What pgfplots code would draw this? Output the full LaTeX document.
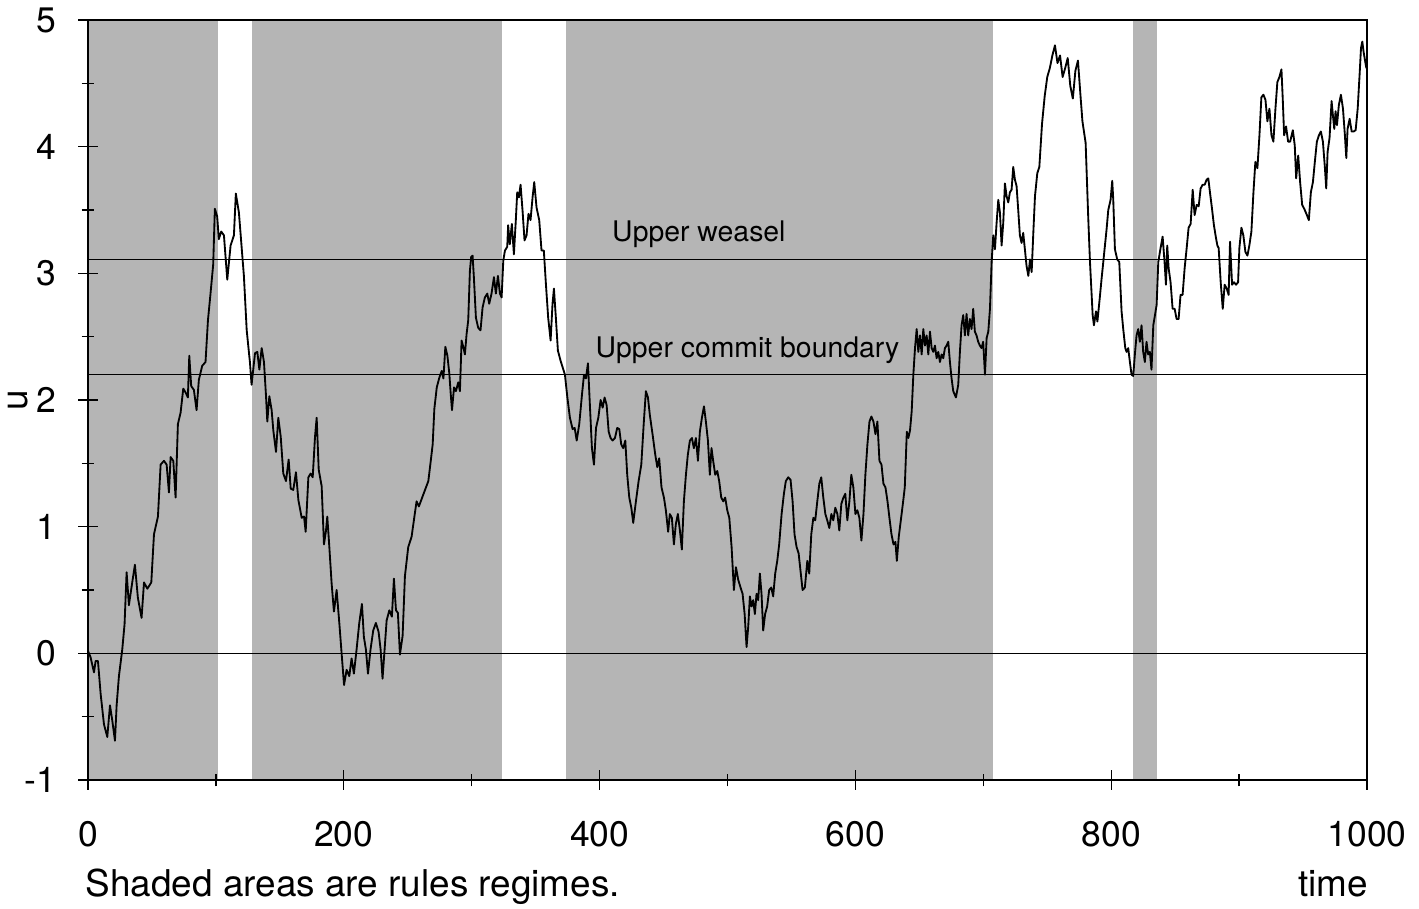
\documentclass[border=0pt]{standalone}
\usepackage{fontspec}
\setmainfont{TeX Gyre Heros}
\usepackage{pgfplots}
\pgfplotsset{compat=1.18}
\definecolor{shade}{gray}{0.71}
\begin{document}
\begin{tikzpicture}
\begin{axis}[
  scale only axis, width=450.67pt, height=267.8pt,
  xmin=0, xmax=1000, ymin=-1, ymax=5,
  xtick={0,200,...,1000}, minor xtick={100,300,...,900},
  ytick={-1,0,...,5}, minor ytick={-0.5,0.5,...,4.5},
  tick pos=left,
  scaled ticks=false,
  tick align=center, major tick length=7pt, minor tick length=4.5pt,
  every tick/.style={black, line width=0.5pt},
  axis line style={line width=0.6pt},
  tick label style={font=\fontsize{12.5}{14}\selectfont},
  /pgf/number format/assume math mode=true,
  /pgf/number format/1000 sep={},
  xticklabel style={yshift=-7.5pt},
  yticklabel style={xshift=-4.2pt},
  axis on top,
]
\coordinate (SW) at (rel axis cs:0,0);
\coordinate (SE) at (rel axis cs:1,0);
\coordinate (ML) at (rel axis cs:0,0.5);
\coordinate (NE) at (rel axis cs:1,1);
% rules regimes (shaded)
\addplot[draw=none, fill=shade] coordinates {(0,-1) (0,5) (102,5) (102,-1)} -- cycle;
\addplot[draw=none, fill=shade] coordinates {(128,-1) (128,5) (324,5) (324,-1)} -- cycle;
\addplot[draw=none, fill=shade] coordinates {(373.5,-1) (373.5,5) (707.8,5) (707.8,-1)} -- cycle;
\addplot[draw=none, fill=shade] coordinates {(817,-1) (817,5) (836,5) (836,-1)} -- cycle;
% reference lines
\addplot[black, line width=0.5pt] coordinates {(0,0) (1000,0)};
\addplot[black, line width=0.5pt] coordinates {(0,2.2) (1000,2.2)};
\addplot[black, line width=0.5pt] coordinates {(0,3.11) (1000,3.11)};
% series u
\addplot[black, line width=0.65pt, line join=round] coordinates {
(0,0.02) (2,-0.03) (4.7,-0.15) (6,-0.06) (7.8,-0.06) (9.9,-0.32) (12.5,-0.56) (15.1,-0.66) (17.2,-0.41) (19,-0.53) (21.1,-0.69) (22.4,-0.41) (24.2,-0.18) (26.8,0.03) (28.6,0.23) (30.2,0.64) (32,0.38) (34.6,0.56) (36.7,0.70) (39,0.44) (41.9,0.28) (43.8,0.56) (46.4,0.51) (49.5,0.56) (51.6,0.94) (54.7,1.08) (56.8,1.49) (59.4,1.52) (61.5,1.49) (63.3,1.27) (64.6,1.55) (66.7,1.52) (68.5,1.23) (70.3,1.81) (72.4,1.90) (74.5,2.09) (76.3,2.06) (78.1,2.02) (79.2,2.35) (80.7,2.11) (82.8,2.08) (84.9,1.92) (86.7,2.16) (89.3,2.27) (91.9,2.30) (93.8,2.63) (95.8,2.84) (97.9,3.07) (99.2,3.51) (101,3.45) (102.3,3.27) (104.2,3.33) (106.3,3.30) (108.9,2.95) (111.5,3.22) (114.1,3.30) (115.6,3.63) (118,3.48) (121.9,2.98)
(124.1,2.55) (126.7,2.29) (127.9,2.12) (130.6,2.37) (132.4,2.38) (134,2.24) (135.8,2.41) (137.6,2.30) (139.2,2.03) (140.2,1.83) (141.8,2.03) (143.6,1.92) (144.9,1.76) (147,1.59) (148.8,1.86) (150.7,1.71) (152.7,1.42) (154.8,1.36) (156.9,1.53) (158.5,1.30) (160.5,1.29) (162.6,1.43) (164.5,1.21) (167.1,1.07) (168.9,1.08) (170.2,0.96) (172.3,1.39) (174.1,1.42) (175.7,1.39) (177.5,1.71) (178.8,1.86) (180.4,1.45) (182.7,1.32) (184.5,0.86) (186.1,0.97) (187.1,1.08) (188.7,0.84) (190.5,0.55) (192.3,0.33) (194.4,0.50) (196.5,0.24) (198.3,0.0) (200.2,-0.25) (202.2,-0.13) (204.3,-0.18) (206.1,-0.04) (207.9,-0.16) (210,0.03) (212.1,0.24) (214.2,0.39) (215.7,0.13) (217.3,0.03) (218.9,-0.16) (220.9,0.03) (223,0.18) (225.1,0.24) (227.2,0.17) (228.8,0.03) (230.3,-0.20) (231.9,0.03) (233.5,0.26) (235.6,0.34) (237.6,0.29) (239.2,0.59) (240.8,0.34) (242.3,0.32) (243.9,-0.01) (246,0.14) (247.8,0.61) (250.4,0.84) (253,0.92) (254.8,1.05) (256.9,1.20) (258.7,1.16)
(266.1,1.36) (268,1.52) (269.5,1.65) (270.8,1.93) (272.7,2.10) (274.8,2.18) (276.6,2.23) (277.9,2.17) (279.4,2.42) (281,2.35) (282.5,2.21) (283.6,2.05) (284.6,1.92) (286.2,2.10) (287.7,2.07) (289.5,2.14) (290.8,2.07) (292.1,2.47) (293.4,2.42) (294.7,2.36) (296,2.52) (297.3,2.63) (298.6,3.02) (299.6,3.13) (300.7,3.14) (301.7,2.97) (303.3,2.65) (305.1,2.57) (306.9,2.55) (308.5,2.73) (310.3,2.81) (312.2,2.84) (313.7,2.76) (315.5,2.84) (317.4,2.97) (318.9,2.84) (320.5,2.98) (322.1,2.84) (323.4,2.81) (324.7,3.10) (326,3.18) (327.8,3.21) (328.5,3.38) (329.8,3.23) (331.4,3.39) (333,3.15) (334.5,3.42) (335.6,3.64) (336.9,3.60) (338.2,3.70) (339.8,3.49) (341.3,3.26) (342.9,3.30) (344.4,3.47) (346,3.42) (347.6,3.60) (348.9,3.72) (350.7,3.52) (352.8,3.42) (354.6,3.18) (356.4,3.18) (358,2.92) (359.8,2.65) (361.7,2.47) (363.2,2.76) (364.3,2.88) (365.8,2.65) (367.4,2.39) (369.5,2.31)
(372.9,2.20) (374.8,2.02) (376.8,1.86) (378.9,1.77) (380.5,1.78) (382.1,1.68) (384.1,1.81) (386.2,2.04) (387.8,2.20) (389.3,2.17) (390.9,2.29) (392.5,1.94) (394,1.62) (395.6,1.49) (397.2,1.78) (399,1.86) (400.8,2.0) (402.4,1.94) (403.9,2.02) (405.5,1.96) (407.1,1.75) (408.6,1.70) (410.2,1.68) (412,1.70) (413.8,1.78) (415.4,1.77) (416.9,1.65) (418.5,1.62) (420.1,1.68) (421.6,1.41) (423.2,1.23) (424.8,1.15) (426.3,1.03) (428.4,1.20) (430.5,1.36) (432.6,1.49) (434.6,1.83) (436.2,2.07) (437.8,2.02) (439.3,1.88) (441.4,1.73) (443.5,1.57) (445.1,1.47) (446.6,1.54) (448.4,1.31) (450.3,1.23) (451.8,1.13) (453.6,0.96) (454.9,1.10) (456.5,1.07) (458.1,0.86) (459.6,1.02) (461.2,1.10) (462.8,0.97) (464.3,0.82) (465.9,1.20) (467.5,1.41) (469,1.57) (470.6,1.68) (472.2,1.70) (473.7,1.62) (475.3,1.70) (476.9,1.52) (478.4,1.75) (480,1.86) (481.6,1.95) (483.1,1.83) (484.7,1.68) (486.2,1.41) (487.5,1.62) (488.8,1.52) (490.4,1.41) (492,1.44) (493.5,1.36) (495.1,1.23) (496.7,1.20) (498.2,1.23) (499.8,1.13) (501.4,1.07)
(503.2,0.84) (505,0.50) (506.6,0.68) (508.4,0.58) (510.2,0.52) (511.8,0.47) (513.4,0.31) (514.9,0.05) (516.2,0.21) (517.5,0.45) (518.8,0.37) (520.1,0.42) (521.4,0.31) (522.7,0.47) (524,0.42) (525.3,0.63) (526.6,0.47) (527.9,0.18) (529.4,0.31) (531,0.37) (532.6,0.50) (534.2,0.52) (535.7,0.45) (537.3,0.63) (538.9,0.73) (540.4,0.86) (542.3,1.10) (544.1,1.26) (545.6,1.36) (547.5,1.39) (549.3,1.37) (550.9,1.20) (552.4,0.94) (554,0.84) (555.6,0.79) (557.1,0.65) (558.7,0.50) (560.5,0.52) (562.4,0.73) (563.9,0.63) (565.5,0.94) (567.1,1.07) (568.6,1.05) (570.2,1.20) (571.8,1.34) (573.3,1.39) (574.9,1.23) (576.5,1.10) (578,1.05) (579.6,0.99) (581.2,1.10) (582.7,1.05) (584.3,1.15) (585.9,1.10) (587.4,0.97) (589,1.18) (590.6,1.23) (592.1,1.26) (593.7,1.05) (595.3,1.20) (596.8,1.41) (598.4,1.31) (600,1.10) (601.5,1.13) (603.1,1.07) (604.7,0.89) (606.3,1.10) (607.8,1.41) (609.4,1.65) (611,1.83) (612.5,1.87) (614.1,1.83) (615.7,1.73) (617.2,1.83) (618.8,1.52) (620.4,1.49) (621.9,1.34) (623.5,1.31) (625.1,1.20) (626.6,1.07) (628.2,0.94) (629.8,0.86) (631.3,0.88) (632.4,0.73) (633.9,0.92) (635.5,1.05) (637.1,1.18) (638.6,1.31) (640.2,1.75)
(641.4,1.70) (642.7,1.76) (644,1.91) (645.3,2.20) (646.6,2.41) (647.9,2.56) (649.2,2.38) (650.5,2.51) (651.8,2.36) (653.1,2.56) (654.4,2.43) (655.7,2.51) (657,2.36) (658.3,2.54) (659.6,2.41) (660.9,2.38) (662.2,2.43) (663.5,2.33) (664.8,2.38) (666.1,2.30) (667.4,2.36) (668.7,2.33) (670,2.41) (671.3,2.43) (672.6,2.46) (673.9,2.30) (675.2,2.17) (676.5,2.07) (678.6,2.02) (680.4,2.12) (681.7,2.38) (683,2.59) (684.3,2.67) (685.6,2.51) (686.9,2.68) (688.2,2.51) (689.5,2.64) (690.8,2.56) (692.1,2.72) (693.4,2.54) (694.7,2.51) (696,2.46) (697.3,2.43) (698.6,2.41) (699.9,2.46)
(701.3,2.20) (702.6,2.49) (703.9,2.54) (705.2,2.72) (706.5,3.09) (707.8,3.30) (709.1,3.19) (710.4,3.40) (711.7,3.58) (713,3.48) (714.3,3.22) (715.6,3.40) (716.9,3.71) (718.2,3.61) (719.5,3.56) (720.8,3.64) (722.1,3.66) (723.4,3.84) (724.7,3.74) (726,3.69) (727.3,3.50) (728.6,3.30) (729.9,3.24) (731.2,3.32) (732.5,3.19) (733.8,3.06) (735.2,2.98) (736.5,3.11) (737.8,3.01) (739.1,3.32) (740.4,3.61) (742.2,3.79) (743.8,3.84) (745.1,4.05) (745.9,4.18)
(748,4.40) (750,4.55) (752,4.62) (754,4.72) (756,4.80) (758,4.66) (760,4.72) (762,4.55) (764,4.62) (766,4.70) (768,4.48) (770,4.38) (772,4.60) (774,4.68) (776,4.40) (777.5,4.20)
(780,4.03) (782,3.45) (783.4,3.09) (785.5,2.67) (786.5,2.59) (788.1,2.70) (789.2,2.62) (790.7,2.77) (792.5,2.96) (794.3,3.14) (796.4,3.35) (797.7,3.50) (799.5,3.58) (800.8,3.73) (801.6,3.58) (802.9,3.19) (804.7,3.11) (806.3,3.09) (808.1,2.70) (809.4,2.56) (811,2.41) (812,2.38) (813.3,2.41) (814.6,2.30) (815.9,2.20) (817.2,2.19) (818.5,2.36) (819.8,2.51) (821.1,2.56) (822.4,2.46) (823.7,2.59) (825,2.38) (826.3,2.30) (827.6,2.46) (828.9,2.36) (830.2,2.38) (831.5,2.24)
(832.9,2.59) (835.5,2.75) (836.8,3.09) (838.6,3.20) (840.2,3.29) (841.7,3.09) (842.8,2.91) (843.8,3.22) (844.9,3.04) (846.4,2.93) (848,2.72) (849.6,2.72) (851.1,2.64) (852.7,2.64) (854.2,2.83) (855.8,2.83) (857.4,3.04) (859,3.20) (860.5,3.36) (862.1,3.39) (863.7,3.66) (865.2,3.46) (866.8,3.54) (868.4,3.53) (869.9,3.67) (871.5,3.70) (873.1,3.70) (874.6,3.74) (875.9,3.75) (877.2,3.64) (878.8,3.51) (880.3,3.38) (881.9,3.28) (883,3.22) (884,3.20) (885.6,2.93) (887.2,2.72) (888.7,2.91) (890.3,2.88) (891.8,2.83) (892.9,3.25) (894.5,2.91) (896,2.93) (897.6,2.91) (899.2,2.93) (900.2,3.20) (901.8,3.36) (903.3,3.30) (904.9,3.17) (906.5,3.14) (908,3.22) (909.6,3.33) (911.2,3.64) (912.7,3.88) (914.3,3.83) (915.9,4.09) (917.4,4.39) (919,4.41) (920.6,4.37) (922.1,4.20) (923.7,4.30) (925.3,4.09) (926.8,4.04) (928.4,4.30) (929.9,4.51) (931.5,4.55) (933.1,4.61) (934.1,4.38) (935.2,4.09) (936.7,4.16) (938.3,4.04) (939.9,4.04) (942,4.13) (943.5,4.01) (944.6,3.75) (946.2,3.93) (947.7,3.72) (949.3,3.54) (950.9,3.51) (953,3.46) (954.5,3.42) (956.1,3.64) (957.7,3.72) (959.2,3.88) (960.8,4.04) (962.4,4.09) (963.9,4.12) (965.5,4.04) (967.1,3.83) (968.1,3.67) (969.2,3.96) (970.7,4.07) (972.3,4.36) (973.3,4.25) (974.4,4.14) (975.4,4.28) (976.5,4.17) (978,4.33) (979.6,4.41) (981.2,4.30) (982.7,4.09) (983.8,3.91) (984.8,4.14) (986.4,4.22) (988,4.12) (989.5,4.12) (991.1,4.13) (992.7,4.30) (994.2,4.57) (995.3,4.78) (996.3,4.83) (997.3,4.75) (998.6,4.67) (999.5,4.62)
};
\node[anchor=base west, inner sep=0pt, font=\fontsize{10}{12}\selectfont] at (axis cs:409.4,3.254) {Upper weasel};
\node[anchor=base west, inner sep=0pt, font=\fontsize{10}{12}\selectfont] at (axis cs:396.4,2.339) {Upper commit boundary};
\end{axis}
\node[rotate=90, inner sep=0pt, font=\fontsize{13}{15}\selectfont] at ([xshift=-24.5pt]ML) {u};
\node[anchor=base west, inner sep=0pt, font=\fontsize{13}{15}\selectfont] at ([xshift=-1pt,yshift=-41.2pt]SW) {Shaded areas are rules regimes.};
\node[anchor=base east, inner sep=0pt, font=\fontsize{13}{15}\selectfont] at ([xshift=0.5pt,yshift=-41.2pt]SE) {time};
\pgfresetboundingbox
\path ([shift={(-31pt,-45.1pt)}]SW) rectangle ([shift={(18.32pt,7.05pt)}]NE);
\end{tikzpicture}
\end{document}
